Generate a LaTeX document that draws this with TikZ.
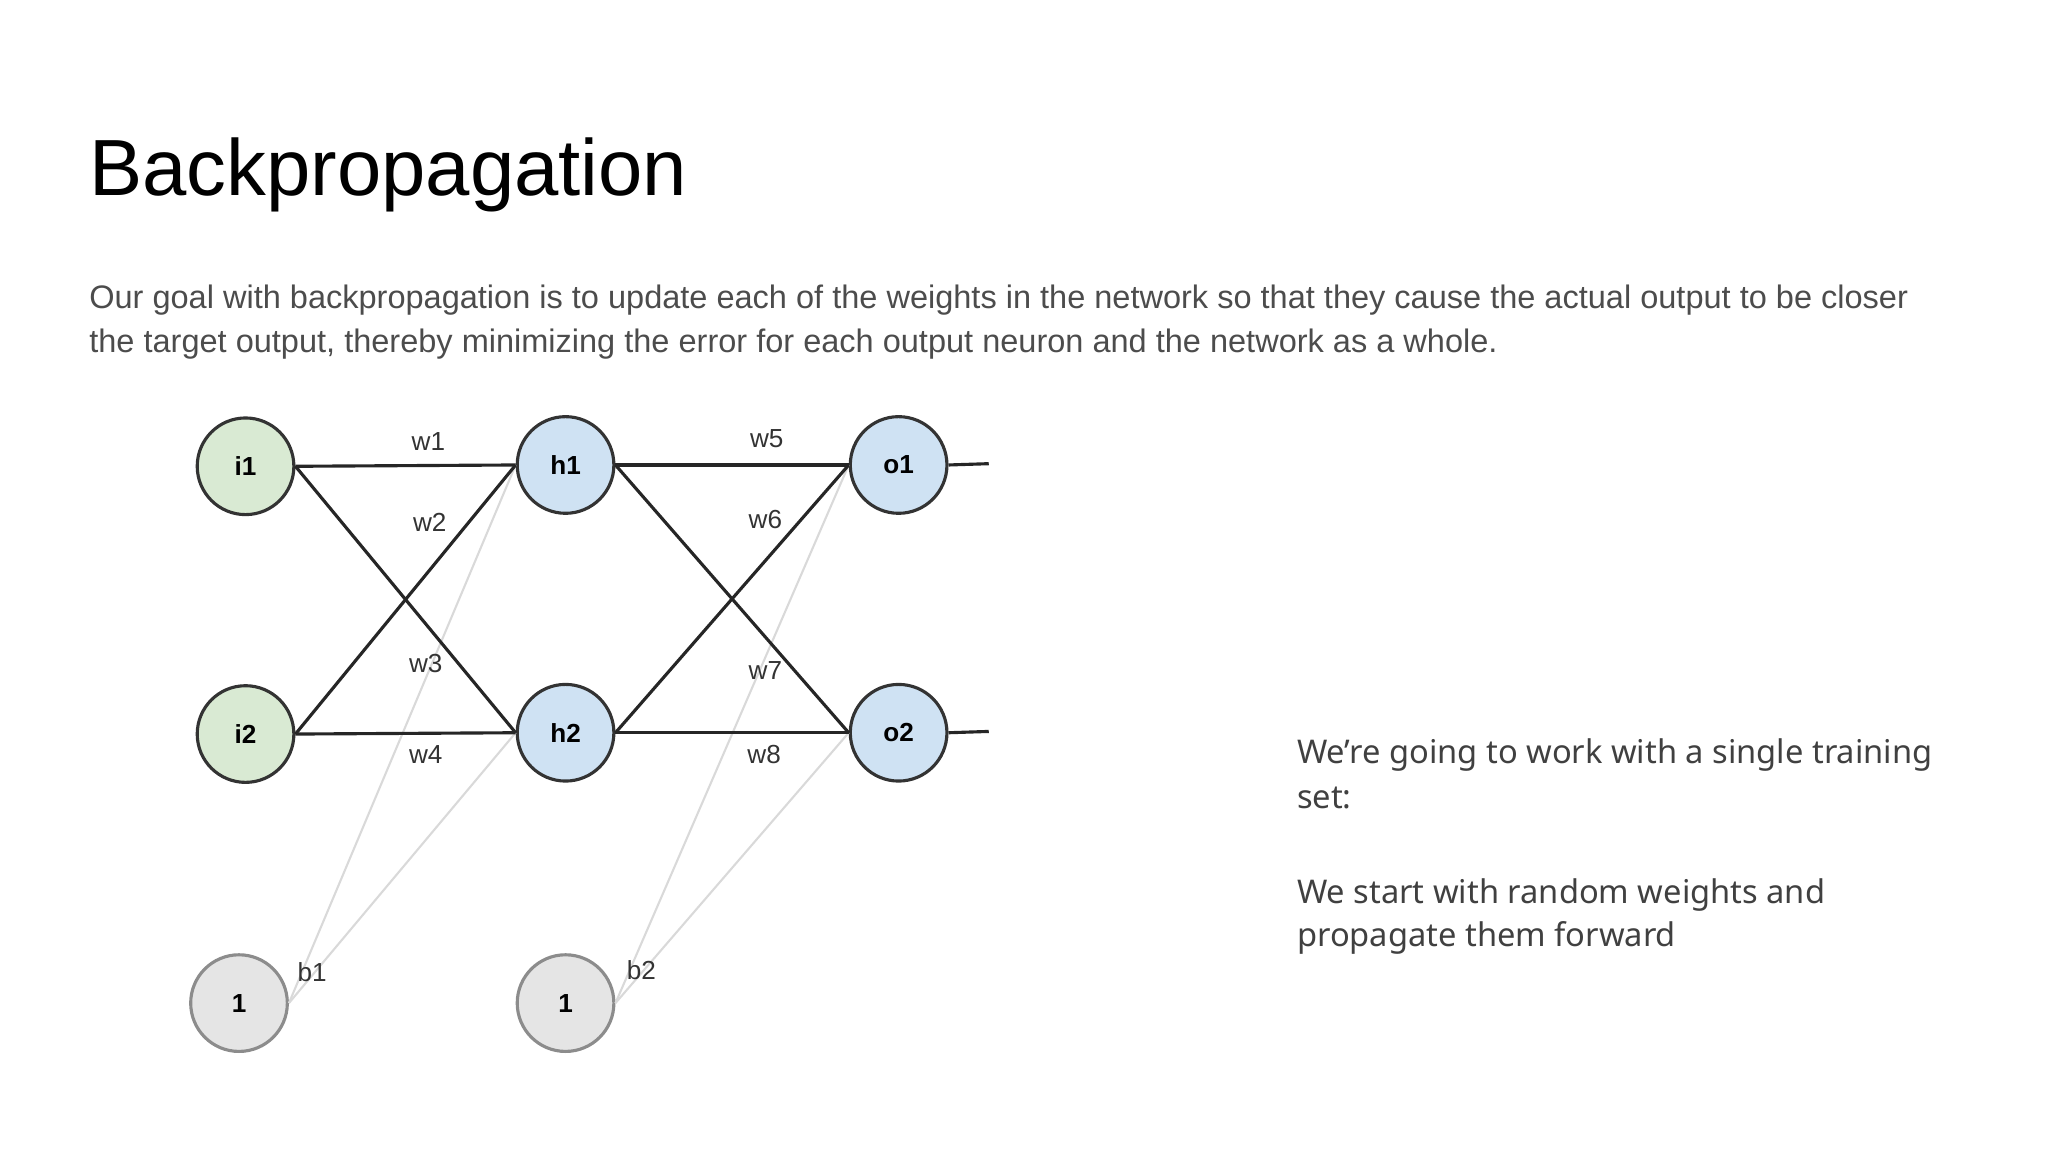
\documentclass[tikz,border=0pt]{standalone}
\usepackage{fontspec}
\setmainfont{Liberation Sans}
\newfontfamily\handf{Noto Sans}
\begin{document}
\begin{tikzpicture}[x=0.5pt,y=-0.5pt,
 neu/.style={circle,minimum size=37pt,inner sep=0pt,line width=1.2pt,draw=black!80,font=\fontsize{10}{12}\selectfont\bfseries},
 inn/.style={neu,fill={rgb,255:red,217;green,234;blue,211}},
 hid/.style={neu,fill={rgb,255:red,207;green,226;blue,243}},
 bia/.style={neu,draw=black!45,fill=black!10},
 w/.style={line width=1.2pt,black!85},
 bl/.style={line width=0.8pt,black!15},
 lab/.style={font=\fontsize{10}{12}\selectfont,text=black!80},
 hand/.style={font=\handf\fontsize{12.5}{17}\selectfont,text=black!75,anchor=west}]
\useasboundingbox (0,0) rectangle (1568,882);
\node[anchor=base west,inner sep=0pt,font=\fontsize{30.5}{36}\selectfont] (t) at (68,150) {Backpropagation};
\node[anchor=base west,inner sep=0pt,font=\fontsize{12.45}{15}\selectfont,text=black!70] (p1) at (68,236) {Our goal with backpropagation is to update each of the weights in the network so that they cause the actual output to be closer};
\node[anchor=base west,inner sep=0pt,font=\fontsize{12.45}{15}\selectfont,text=black!70] (p2) at (68,270) {the target output, thereby minimizing the error for each output neuron and the network as a whole.};
\node[inn] (i1) at (188,357) {i1};
\node[inn] (i2) at (188,562) {i2};
\node[hid] (h1) at (433,356) {h1};
\node[hid] (h2) at (433,561) {h2};
\node[hid] (o1) at (688,356) {o1};
\node[hid] (o2) at (688,561) {o2};
\node[bia] (b1) at (183,768) {1};
\node[bia] (b2) at (433,768) {1};
\coordinate (e1) at (757,355);
\coordinate (e2) at (757,560);
\draw[bl] (b1.east) -- (h1.west);
\draw[bl] (b1.east) -- (h2.west);
\draw[bl] (b2.east) -- (o1.west);
\draw[bl] (b2.east) -- (o2.west);
\draw[w] (i1.east) -- (h1.west);
\draw[w] (i1.east) -- (h2.west);
\draw[w] (i2.east) -- (h1.west);
\draw[w] (i2.east) -- (h2.west);
\draw[w] (h1.east) -- (o1.west);
\draw[w] (h1.east) -- (o2.west);
\draw[w] (h2.east) -- (o1.west);
\draw[w] (h2.east) -- (o2.west);
\draw[w] (o1.east) -- (e1);
\draw[w] (o2.east) -- (e2);
\node[lab] (l1) at (328,338) {w1};
\node[lab] (l2) at (329,400) {w2};
\node[lab] (l3) at (326,508) {w3};
\node[lab] (l4) at (326,578) {w4};
\node[lab] (l5) at (587,336) {w5};
\node[lab] (l6) at (586,398) {w6};
\node[lab] (l7) at (586,513) {w7};
\node[lab] (l8) at (585,578) {w8};
\node[lab] (lb1) at (239,744) {b1};
\node[lab] (lb2) at (491,743) {b2};
\node[hand] (r1) at (986,578) {We’re going to work with a single training};
\node[hand] (r2) at (986,611) {set:};
\node[hand] (r3) at (986,685) {We start with random weights and};
\node[hand] (r4) at (986,718) {propagate them forward};
\end{tikzpicture}
\end{document}
